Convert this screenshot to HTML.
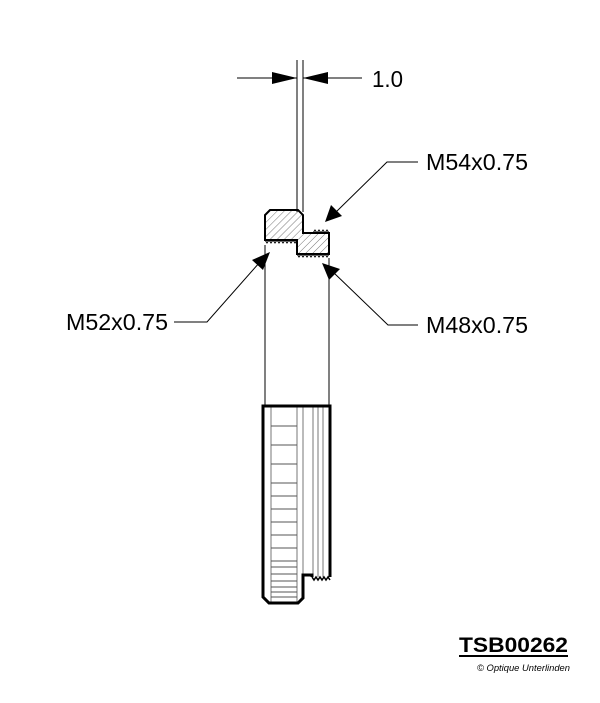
<!DOCTYPE html>
<html><head><style>body{margin:0;background:#fff}svg{display:block}</style></head>
<body>
<svg width="600" height="703" viewBox="0 0 600 703" xmlns="http://www.w3.org/2000/svg" font-family="Liberation Sans, sans-serif">
<defs>
<pattern id="h" width="5" height="5" patternUnits="userSpaceOnUse" patternTransform="rotate(45)">
<line x1="0" y1="0" x2="0" y2="5" stroke="#777" stroke-width="1"/>
</pattern>
</defs>
<g stroke="#000" stroke-width="1" fill="none">
<line x1="297" y1="60" x2="297" y2="212"/>
<line x1="303" y1="60" x2="303" y2="212"/>
<line x1="237" y1="78" x2="297" y2="78"/>
<line x1="303" y1="78" x2="362" y2="78"/>
</g>
<polygon points="297,78 272,72 272,84" fill="#000"/>
<polygon points="303,78 328,72 328,84" fill="#000"/>
<text x="372" y="87" font-size="23" textLength="31" lengthAdjust="spacingAndGlyphs">1.0</text>
<path d="M265,240 L265,215 L270,210 L298,210 L303,215 L303,233 L329,233 L329,254 L297,254 L297,240 Z" fill="url(#h)" stroke="#000" stroke-width="2"/>
<path d="M265,240 l2,3 l2,-3 l2,3 l2,-3 l2,3 l2,-3 l2,3 l2,-3 l2,3 l2,-3 l2,3 l2,-3 l2,3 l2,-3 l2,3 l2,-3 M297,254 l2,3 l2,-3 l2,3 l2,-3 l2,3 l2,-3 l2,3 l2,-3 l2,3 l2,-3 l2,3 l2,-3 l2,3 l2,-3 l2,3 l2,-3 M313,233 l2,-3 l2,3 l2,-3 l2,3 l2,-3 l2,3 l2,-3 l2,3" fill="none" stroke="#000" stroke-width="1"/>
<line x1="265" y1="245" x2="265" y2="406" stroke="#000"/>
<line x1="329" y1="258" x2="329" y2="406" stroke="#000"/>
<g stroke="#000" stroke-width="1" fill="none">
<polyline points="418,162 387,162 335,213"/>
<polyline points="174,322 207,322 260,262"/>
<polyline points="418,325 388,325 333,272"/>
</g>
<polygon points="325,222 331,205 342,216" fill="#000"/>
<polygon points="270,252 252,260 263,270" fill="#000"/>
<polygon points="322,263 329,280 340,269" fill="#000"/>
<text x="426" y="170" font-size="23" textLength="102" lengthAdjust="spacingAndGlyphs">M54x0.75</text>
<text x="66" y="330" font-size="23" textLength="102" lengthAdjust="spacingAndGlyphs">M52x0.75</text>
<text x="426" y="333" font-size="23" textLength="102" lengthAdjust="spacingAndGlyphs">M48x0.75</text>
<g stroke="#777" stroke-width="1">
<line x1="271" y1="406" x2="271" y2="603"/>
<line x1="297" y1="406" x2="297" y2="603"/>
<line x1="303" y1="406" x2="303" y2="575"/>
<line x1="313" y1="406" x2="313" y2="577"/>
<line x1="318" y1="406" x2="318" y2="577"/>
<line x1="323" y1="406" x2="323" y2="577"/>
</g>
<g stroke="#555" stroke-width="1">
<line x1="271" y1="426" x2="297" y2="426"/><line x1="271" y1="445" x2="297" y2="445"/>
<line x1="271" y1="464" x2="297" y2="464"/><line x1="271" y1="483" x2="297" y2="483"/>
<line x1="271" y1="496" x2="297" y2="496"/><line x1="271" y1="509" x2="297" y2="509"/>
<line x1="271" y1="522" x2="297" y2="522"/><line x1="271" y1="535" x2="297" y2="535"/>
<line x1="271" y1="548" x2="297" y2="548"/><line x1="271" y1="561" x2="297" y2="561"/>
<line x1="271" y1="567" x2="297" y2="567"/><line x1="271" y1="574" x2="297" y2="574"/>
<line x1="271" y1="581" x2="297" y2="581"/><line x1="271" y1="587" x2="297" y2="587"/>
<line x1="271" y1="592" x2="297" y2="592"/><line x1="271" y1="597" x2="297" y2="597"/>
</g>
<path d="M330,577 L330,406 L263,406 L263,597 L269,603 L298,603 L303,598 L303,575 L312,575 L312,577" fill="none" stroke="#000" stroke-width="3" stroke-linejoin="miter"/>
<path d="M312,577 l2,3 l2,-3 l2,3 l2,-3 l2,3 l2,-3 l2,3 l2,-3 l2,3" fill="none" stroke="#000" stroke-width="1.5"/>
<text x="459" y="652" font-size="21" font-weight="bold" textLength="109" lengthAdjust="spacingAndGlyphs">TSB00262</text>
<line x1="459" y1="656" x2="568" y2="656" stroke="#000" stroke-width="2"/>
<text x="477" y="671" font-size="9" font-style="italic" textLength="93" lengthAdjust="spacingAndGlyphs">© Optique Unterlinden</text>
</svg>
</body></html>
